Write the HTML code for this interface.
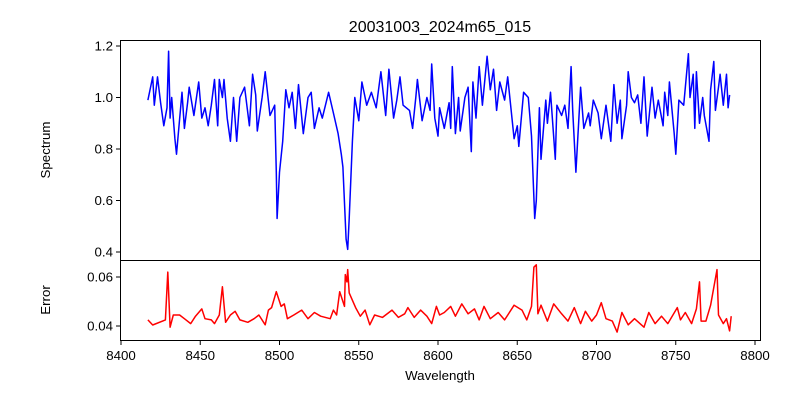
<!DOCTYPE html>
<html><head><meta charset="utf-8"><style>
body{margin:0;background:#fff}
svg text{font-family:"Liberation Sans","DejaVu Sans",sans-serif;fill:#000}
</style></head><body>
<svg id="chart" width="800" height="400" xmlns="http://www.w3.org/2000/svg">
<rect width="800" height="400" fill="#fff"/>
<text x="440" y="32" font-size="16" text-anchor="middle">20031003_2024m65_015</text>
<g id="topPanel"></g>
<g id="botPanel"></g>
<text x="50" y="150" font-size="13.3" text-anchor="middle" transform="rotate(-90 50 150)">Spectrum</text>
<text x="50" y="300" font-size="13.3" text-anchor="middle" transform="rotate(-90 50 300)">Error</text>
<text x="440" y="380" font-size="13.3" text-anchor="middle">Wavelength</text>
</svg>
<script>
const specWave=[8417,8420,8421,8423,8425,8427,8429,8430,8431,8432,8434,8435,8436,8438.5,8440,8442,8443,8446,8449,8451,8453,8455,8457,8459,8461,8462,8464,8465,8467,8469,8471,8473,8475,8478,8481,8483,8485,8486,8489,8491,8494,8497,8498,8498.5,8500,8502,8504,8506,8508,8510,8512,8515,8518,8520,8522,8525,8527,8531,8534,8537,8539,8540,8542,8543,8544,8546,8547.5,8550,8552,8555,8558,8561,8564,8567,8569,8572,8574,8576,8578,8582,8584,8586,8587,8590,8593,8595,8596,8598,8600,8601,8604,8607,8608,8609,8611,8613,8614,8617,8619,8621,8622,8624,8626,8628,8631,8633,8635,8637,8639,8642,8644,8646,8648,8650,8651,8654,8657,8659,8661,8662,8664,8665,8668,8669,8671,8674,8675,8678,8680,8682,8684,8685,8687,8690,8692,8695,8696,8698,8701,8703,8706,8709,8711,8713,8715,8716,8719,8720,8722,8724,8726,8728,8730,8732,8735,8737,8739,8742,8743,8745,8746,8749,8750,8752,8755,8758,8759,8761,8762,8763,8765,8767,8768,8771,8772,8774,8775,8777,8778,8780,8782,8783,8784];
const specFlux=[0.99,1.08,0.97,1.08,0.98,0.89,0.96,1.18,0.92,1.0,0.84,0.78,0.85,1.02,0.88,0.98,1.04,0.93,1.06,0.92,0.96,0.89,0.97,1.07,0.89,1.07,1.0,1.07,0.92,0.83,1.0,0.83,1.0,1.04,0.89,1.09,1.01,0.87,1.0,1.1,0.93,0.97,0.71,0.53,0.71,0.83,1.03,0.96,1.02,0.88,1.05,0.86,1.0,1.02,0.88,0.96,0.92,1.02,0.94,0.86,0.78,0.73,0.45,0.41,0.53,0.83,1.0,0.91,1.06,0.97,1.02,0.96,1.1,0.93,1.11,0.92,0.99,1.08,0.97,0.95,0.88,1.0,1.07,0.91,1.0,0.95,1.13,0.92,0.85,0.96,0.88,0.98,0.88,1.12,0.86,1.0,0.87,1.0,1.04,0.79,1.06,0.92,1.12,0.97,1.16,1.03,1.11,0.95,1.06,0.99,1.08,0.96,0.84,0.89,0.81,1.02,1.0,0.85,0.53,0.6,0.96,0.76,0.99,0.9,1.02,0.76,0.97,0.93,0.97,0.88,1.12,0.95,0.71,1.04,0.88,0.94,0.89,0.99,0.94,0.84,0.97,0.83,1.05,0.9,0.99,0.84,0.97,1.1,1.0,0.98,1.01,0.9,1.08,0.85,1.04,0.92,0.99,0.89,1.02,0.93,1.06,0.86,0.78,0.99,0.97,1.17,1.0,1.09,0.88,1.1,0.9,1.0,0.93,0.83,1.03,1.14,0.95,1.04,1.09,0.97,1.09,0.96,1.01];
const errWave=[8417,8420,8428,8429.5,8431,8433,8437,8440,8444,8447,8451,8453,8457,8459,8462,8464,8466,8469,8472,8475,8480,8484,8487,8491,8493,8495,8498,8501,8503,8505,8509,8514,8518,8522,8526,8532,8534,8536,8538,8541,8541.5,8542.5,8543,8544,8548,8551,8554,8557,8560,8565,8571,8575,8579,8581,8585,8589,8593,8596,8599,8601,8604,8608,8611,8615,8619,8623,8626,8629,8633,8638,8642,8648,8653,8656,8659,8660.5,8662,8663,8665,8669,8673,8678,8682,8686,8690,8693,8697,8700,8703,8706,8710,8713,8716,8720,8724,8730,8733,8737,8741,8745,8751,8753,8756,8760,8763,8765,8766,8769,8772,8776,8777,8780,8782,8784,8785];
const errVal=[0.0425,0.0404,0.0425,0.062,0.0395,0.0445,0.0445,0.043,0.041,0.044,0.047,0.043,0.0425,0.041,0.0445,0.056,0.0415,0.0445,0.046,0.0425,0.0415,0.043,0.0445,0.0405,0.0465,0.0475,0.054,0.048,0.049,0.043,0.0445,0.0465,0.043,0.0455,0.044,0.043,0.0465,0.0445,0.054,0.048,0.061,0.058,0.063,0.0535,0.0475,0.044,0.0465,0.0405,0.0445,0.0435,0.0465,0.0435,0.045,0.0475,0.0435,0.0465,0.044,0.041,0.048,0.0445,0.0455,0.048,0.044,0.049,0.045,0.047,0.0425,0.048,0.043,0.0455,0.0425,0.0485,0.0465,0.0425,0.048,0.064,0.065,0.045,0.0485,0.042,0.049,0.045,0.042,0.0475,0.041,0.046,0.042,0.0445,0.0495,0.043,0.042,0.0375,0.0455,0.0405,0.043,0.0395,0.0455,0.041,0.044,0.041,0.0475,0.0425,0.0455,0.041,0.047,0.058,0.042,0.042,0.0485,0.063,0.0445,0.041,0.043,0.038,0.044];
const xTicks=[8400,8450,8500,8550,8600,8650,8700,8750,8800];
const specTicks=[0.4,0.6,0.8,1.0,1.2];
const errTicks=[0.04,0.06];

const NS="http://www.w3.org/2000/svg";
const xs=w=>121+(w-8400)*(634/400);
const ysTop=v=>252-(v-0.4)*257.5;
const ysBot=v=>326-(v-0.04)*2450;
function mk(tag,attrs,parent){const e=document.createElementNS(NS,tag);for(const k in attrs)e.setAttribute(k,attrs[k]);parent.appendChild(e);return e;}
const topG=document.getElementById('topPanel'), botG=document.getElementById('botPanel');

let p=mk('polyline',{points:specWave.map((w,i)=>xs(w).toFixed(1)+','+ysTop(specFlux[i]).toFixed(1)).join(' '),fill:'none',stroke:'#0000ff','stroke-width':1.5,'stroke-linejoin':'round'},topG);


let q=mk('polyline',{points:errWave.map((w,i)=>xs(w).toFixed(1)+','+ysBot(errVal[i]).toFixed(1)).join(' '),fill:'none',stroke:'#ff0000','stroke-width':1.5,'stroke-linejoin':'round'},botG);



let r1=mk('rect',{x:120.5,y:40.5,width:640,height:220,fill:'none',stroke:'#000','stroke-width':1},topG);


let r2=mk('rect',{x:120.5,y:260.5,width:640,height:80,fill:'none',stroke:'#000','stroke-width':1},botG);



specTicks.forEach(v=>{const y=ysTop(v);
 mk('line',{x1:116,x2:120.5,y1:y,y2:y,stroke:'#000'},topG);
 const t=mk('text',{x:113,y:y+4.5,'font-size':13.3,'text-anchor':'end'},topG);t.textContent=v.toFixed(1);
 
 });
errTicks.forEach(v=>{const y=ysBot(v);
 mk('line',{x1:116,x2:120.5,y1:y,y2:y,stroke:'#000'},botG);
 const t=mk('text',{x:113,y:y+4.5,'font-size':13.3,'text-anchor':'end'},botG);t.textContent=v.toFixed(2);
 
 });
xTicks.forEach(w=>{const x=xs(w);
 mk('line',{x1:x,x2:x,y1:340.5,y2:345,stroke:'#000'},botG);
 const t=mk('text',{x:x,y:360,'font-size':13.3,'text-anchor':'middle'},botG);t.textContent=w;
 
 });
</script>
</body></html>
